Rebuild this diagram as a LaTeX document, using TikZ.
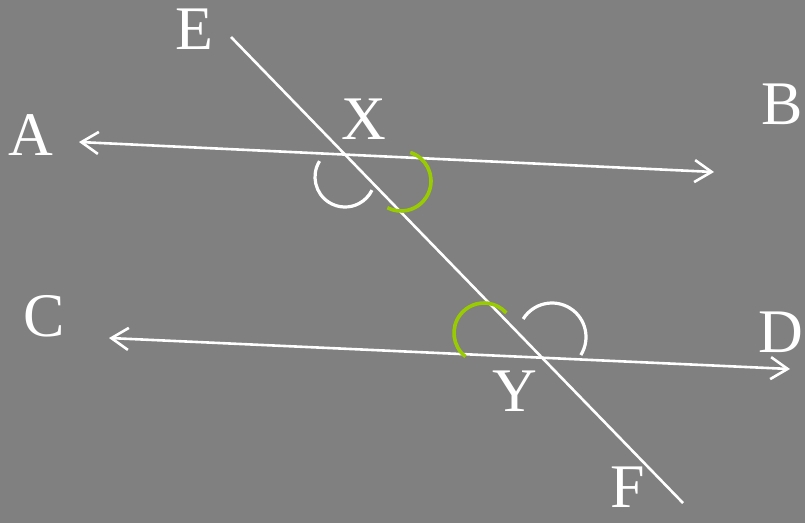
\documentclass[tikz,border=0pt]{standalone}
\usepackage{fontspec}
\setmainfont{Liberation Serif}
\usepackage{xcolor}
\usepackage{tikz}
\usetikzlibrary{arrows.meta}
\definecolor{bggray}{RGB}{128,128,128}
\definecolor{anglegreen}{RGB}{153,204,0}

\begin{document}
\begin{tikzpicture}[x=1pt,y=1pt,
  every node/.style={font=\fontsize{62}{62}\selectfont, text=white, inner sep=0pt},
  ray/.style={draw=white, line width=2.6pt, {Straight Barb[length=17pt,width=22pt,line width=2.6pt]}-{Straight Barb[length=17pt,width=22pt,line width=2.6pt]}},
  transversal/.style={draw=white, line width=2.6pt},
  whitearc/.style={draw=white, line width=3.2pt},
  greenarc/.style={draw=anglegreen, line width=3.6pt}]
\fill[bggray] (0,0) rectangle (805,-523);
\useasboundingbox (0,0) rectangle (805,-523);
% end points of the lines
\coordinate (e0) at (231,-37);
\coordinate (f0) at (683,-503);
\coordinate (a0) at (79,-142);
\coordinate (b0) at (714,-172);
\coordinate (c0) at (109,-338);
\coordinate (d0) at (790,-369);
\draw[ray] (a0) -- (b0);
\draw[ray] (c0) -- (d0);
\draw[transversal] (e0) -- (f0);
% angle marks
\draw[whitearc] (345,-177) ++(148:30) arc[start angle=148, end angle=334, radius=30];
\draw[greenarc] (401,-181) ++(72:30) arc[start angle=72, end angle=-117, radius=30];
\draw[greenarc] (484,-333) ++(232:30) arc[start angle=232, end angle=42, radius=30];
\draw[whitearc] (552,-337) ++(148:34) arc[start angle=148, end angle=-32, radius=34];
% labels
\node (labE) at (194,-29) {E};
\node (labA) at (31,-135) {A};
\node (labX) at (364,-119) {X};
\node (labB) at (782,-104) {B};
\node (labC) at (44,-316) {C};
\node (labD) at (781,-332) {D};
\node (labY) at (515,-391) {Y};
\node (labF) at (628,-487) {F};
\end{tikzpicture}
\end{document}
